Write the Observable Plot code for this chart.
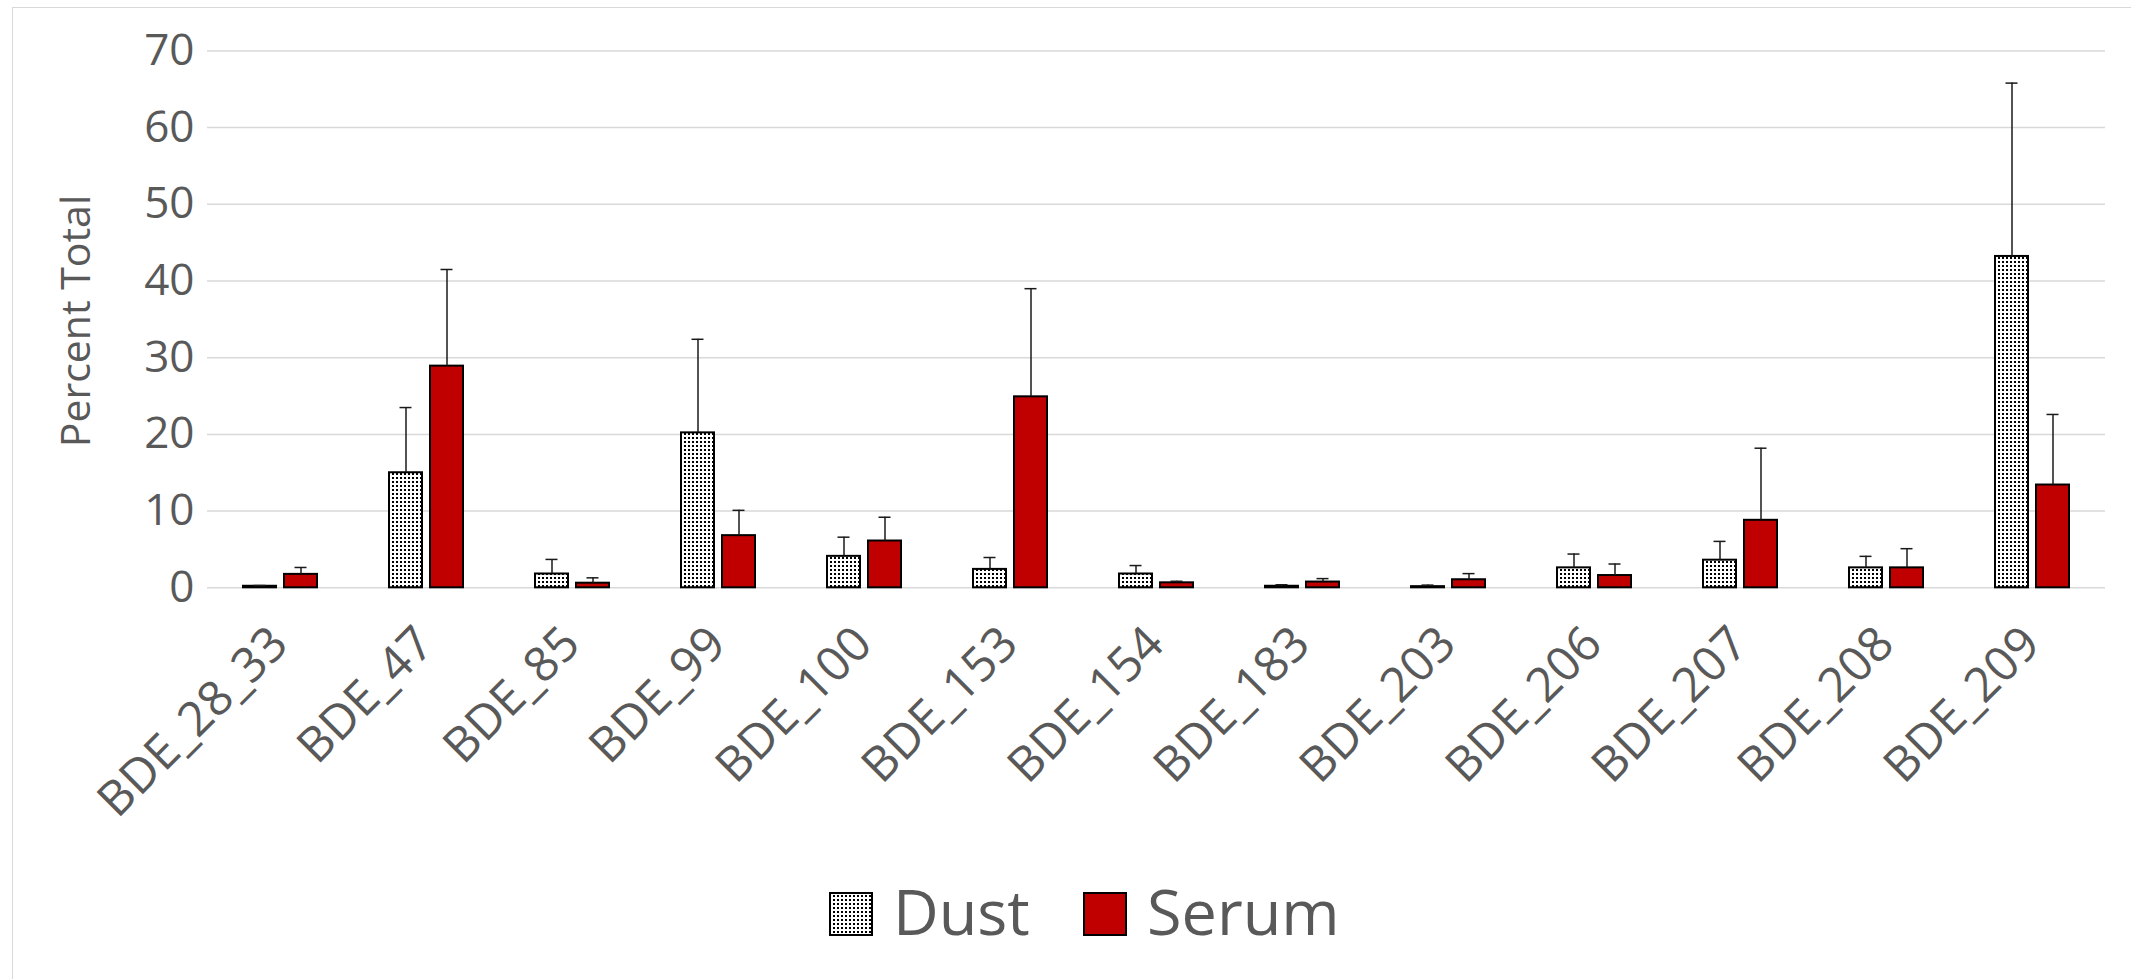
<!DOCTYPE html>
<html><head><meta charset="utf-8">
<script src="https://cdn.jsdelivr.net/npm/d3@7"></script>
<script src="https://cdn.jsdelivr.net/npm/@observablehq/plot@0.6"></script>
<style>
html,body{margin:0;padding:0;background:#fff;width:2131px;height:979px;overflow:hidden;position:relative;}
#frame{position:absolute;left:12px;top:7px;width:2200px;height:1100px;border-left:1.5px solid #d9d9d9;border-top:1.5px solid #d9d9d9;}
#chart{position:absolute;left:0;top:0;}
#legend{position:absolute;left:0;top:850px;}
</style></head><body>
<div id="frame"></div><div id="chart"></div><div id="legend"></div>
<script>
const categories = ["BDE_28_33","BDE_47","BDE_85","BDE_99","BDE_100","BDE_153","BDE_154","BDE_183","BDE_203","BDE_206","BDE_207","BDE_208","BDE_209"];
const series = ["Dust","Serum"];
const dustMean  = [0.2, 15.0, 1.8, 20.2, 4.1, 2.4, 1.8, 0.2, 0.15, 2.6, 3.6, 2.6, 43.2];
const dustErr   = [0.1, 8.5, 1.9, 12.2, 2.5, 1.55, 1.1, 0.2, 0.2, 1.8, 2.45, 1.5, 22.6];
const serumMean = [1.75, 28.9, 0.6, 6.8, 6.1, 24.9, 0.65, 0.75, 1.05, 1.6, 8.8, 2.6, 13.4];
const serumErr  = [0.9, 12.6, 0.7, 3.3, 3.1, 14.1, 0.2, 0.45, 0.8, 1.5, 9.4, 2.5, 9.2];
const yTicks = [0, 10, 20, 30, 40, 50, 60, 70];
const yLabel = "Percent Total";
const seriesFill = {Dust: "url(#dots)", Serum: "#c00000"};

const rows = categories.flatMap((c, i) => [
  {category: c, series: "Dust", value: dustMean[i], err: dustErr[i]},
  {category: c, series: "Serum", value: serumMean[i], err: serumErr[i]}
]);
const dustRows = rows.filter(d => d.series === "Dust");
const serumRows = rows.filter(d => d.series === "Serum");

const chart = Plot.plot({
  width: 2131, height: 860,
  marginLeft: 206, marginRight: 24.4, marginTop: 50.4, marginBottom: 272.7,
  style: {fontFamily: "'Open Sans', sans-serif", fontSize: "44px", color: "#595959", background: "transparent", overflow: "visible"},
  fx: {domain: categories, padding: 0, label: null},
  x: {domain: series, axis: null, paddingInner: 0.2, paddingOuter: 0.857},
  y: {domain: [0, 70], ticks: yTicks, tickSize: 0, tickPadding: 13, label: null},
  marks: [
    Plot.ruleY(yTicks, {stroke: "#d9d9d9", strokeWidth: 1.5}),
    Plot.barY(dustRows, {fx: "category", x: "series", y: "value", fill: seriesFill.Dust, stroke: "#000", strokeWidth: 2}),
    Plot.barY(serumRows, {fx: "category", x: "series", y: "value", fill: seriesFill.Serum, stroke: "#000", strokeWidth: 2}),
    Plot.ruleX(rows, {fx: "category", x: "series", y1: "value", y2: d => d.value + d.err, stroke: "#1a1a1a", strokeWidth: 1.5}),
    Plot.tickY(rows, {fx: "category", x: "series", y: d => d.value + d.err, stroke: "#1a1a1a", strokeWidth: 1.5, insetLeft: 10.5, insetRight: 10.5}),
    Plot.axisFx({anchor: "bottom", tickRotate: -45, tickSize: 0, tickPadding: 48, dx: -1, fontSize: 48, label: null})
  ]
});

// dotted pattern for Dust bars
const svg = d3.select(chart);
const defs = svg.insert("defs", ":first-child");
const pat = defs.append("pattern").attr("id", "dots").attr("patternUnits", "userSpaceOnUse").attr("width", 4).attr("height", 4);
pat.append("rect").attr("width", 4).attr("height", 4).attr("fill", "#fff");
pat.append("rect").attr("x", 1).attr("y", 1).attr("width", 2).attr("height", 2).attr("fill", "#000");

// y axis title
svg.append("text")
  .attr("transform", "translate(90,321) rotate(-90)")
  .attr("text-anchor", "middle")
  .attr("fill", "#595959")
  .style("font-size", "41px")
  .text(yLabel);

document.getElementById("chart").appendChild(chart);

// legend
const leg = d3.create("svg").attr("width", 2131).attr("height", 129)
  .style("font-family", "'Open Sans', sans-serif");
const legX = {Dust: 830, Serum: 1084};
series.forEach(s => {
  leg.append("rect").attr("x", legX[s]).attr("y", 43).attr("width", 42).attr("height", 42)
    .attr("fill", seriesFill[s]).attr("stroke", "#000").attr("stroke-width", 2);
  leg.append("text").attr("x", legX[s] + 63).attr("y", 85).attr("fill", "#595959")
    .style("font-size", "63px").text(s);
});
document.getElementById("legend").appendChild(leg.node());
</script>
</body></html>
